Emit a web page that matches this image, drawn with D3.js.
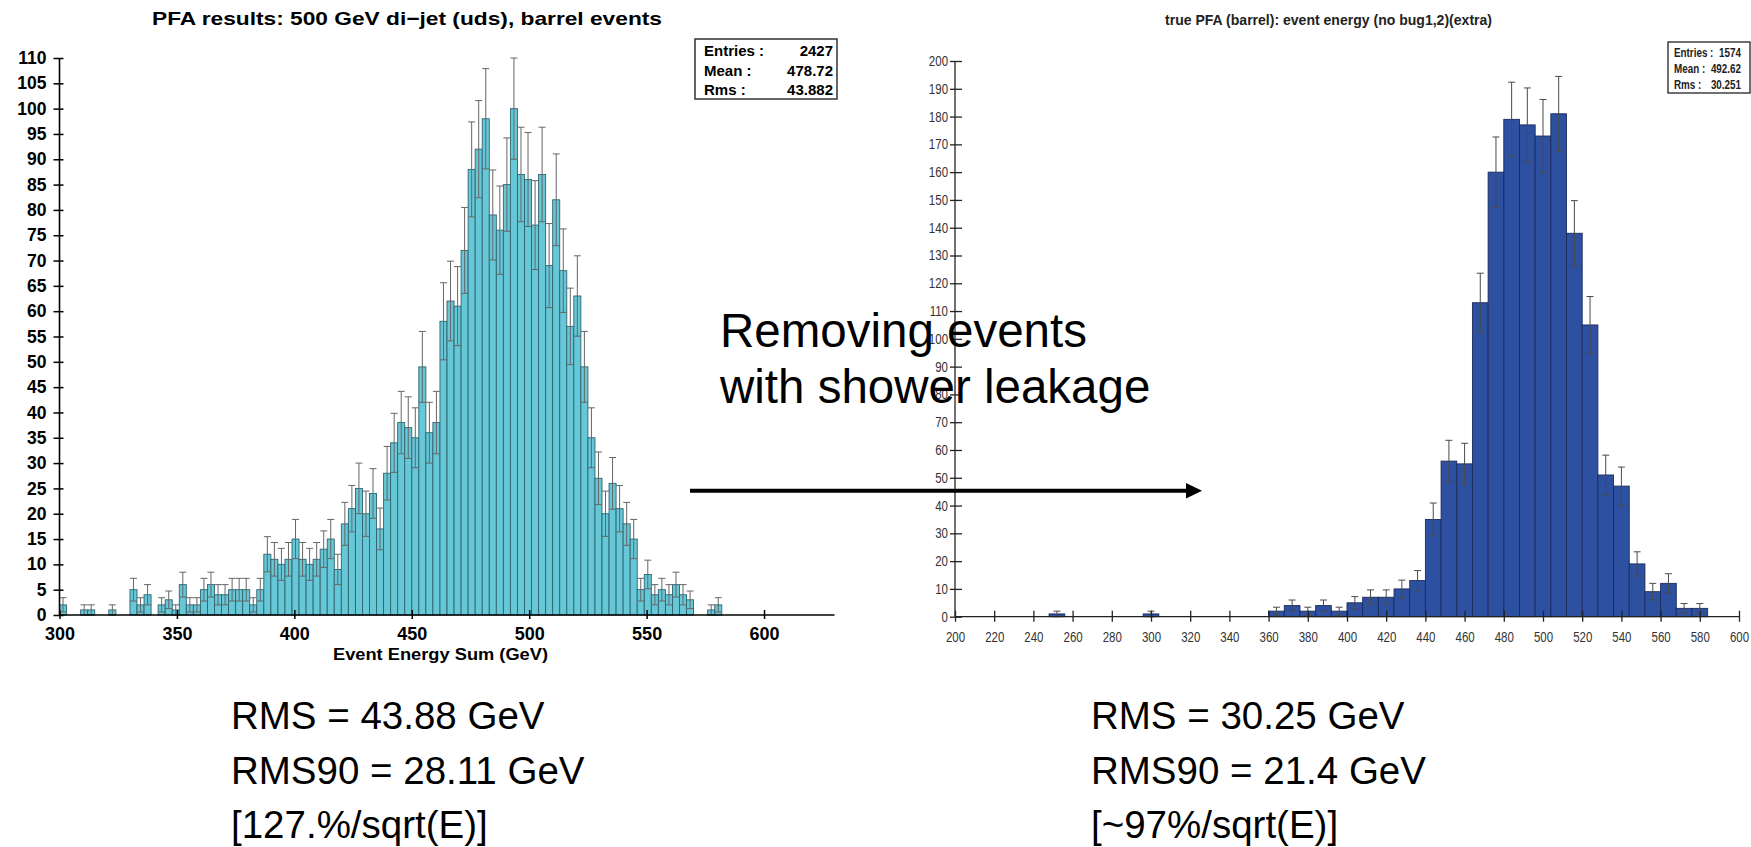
<!DOCTYPE html>
<html lang="en">
<head>
<meta charset="UTF-8">
<title>PFA event energy sum</title>
<script src="https://cdn.jsdelivr.net/npm/d3@7"></script>
<style>
	body { margin: 0; background: #fff; }
	svg { display: block; }
</style>
</head>
<body>
<svg id="chart" width="1751" height="847"></svg>
<script>
// left histogram: 3 GeV bins starting at 300 GeV
var leftBinStart = 300, leftBinWidth = 3
var leftCounts = [2,0,0,1,1,0,0,1,0,0, 5,2,4,0,2,3,1,6,2,2,
	5,6,4,4,5,5,5,2,5,12, 11,10,11,15,11,10,11,13,15,9,
	18,21,25,20,24,17,28,34,38,37, 35,49,36,38,58,62,61,72,88,92,
	98,79,76,85,100,87,86,77,87,69, 82,68,57,63,49,35,27,20,26,21,
	18,15,5,8,4,5,4,6,4,3, 0,0,1,2]
var leftXTicks = [300, 350, 400, 450, 500, 550, 600]
var leftYTicks = d3.range(0, 111, 5)
var leftStats = [["Entries :", "2427"], ["Mean :", "478.72"], ["Rms :", "43.882"]]

// right histogram: 8 GeV bins starting at 248 GeV
var rightBinStart = 248, rightBinWidth = 8
var rightCounts = [1,0,0,0,0,0,1,0,0,0,0,0,0,0,
	2,4,2,4,2,5,7,7,10,13,
	35,56,55,113,160,179,177,173,181,138,
	105,51,47,19,9,12,3,3]
var rightXTicks = d3.range(200, 601, 20)
var rightYTicks = d3.range(0, 201, 10)
var rightStats = [["Entries :", "1574"], ["Mean :", "492.62"], ["Rms :", "30.251"]]

var leftNotes = ["RMS = 43.88 GeV", "RMS90 = 28.11 GeV", "[127.%/sqrt(E)]"]
var rightNotes = ["RMS = 30.25 GeV", "RMS90 = 21.4 GeV", "[~97%/sqrt(E)]"]

var svg = d3.select("#chart")
var FONT = "'Liberation Sans', Arial, sans-serif"

// squeeze text horizontally (the right plot uses a narrow font)
function condense(sel, k) {
	sel.each(function() {
		var w = this.getComputedTextLength()
		d3.select(this).attr("textLength", w * k).attr("lengthAdjust", "spacingAndGlyphs")
	})
}

// ---------------- left plot ----------------
var xL = d3.scaleLinear().domain([300, 630]).range([59.5, 834.5])
var yL = d3.scaleLinear().domain([0, 110]).range([615, 58])

var leftBins = leftCounts.map(function(c, i) {
	return { x0: leftBinStart + i * leftBinWidth, x1: leftBinStart + (i + 1) * leftBinWidth, n: c }
}).filter(function(d) { return d.n > 0 })

var gL = svg.append("g")

gL.selectAll("rect.bar")
	.data(leftBins)
	.enter().append("rect")
	.attr("class", "bar")
	.attr("x", function(d) { return xL(d.x0) })
	.attr("width", function(d) { return xL(d.x1) - xL(d.x0) })
	.attr("y", function(d) { return yL(d.n) })
	.attr("height", function(d) { return yL(0) - yL(d.n) })
	.style("fill", "#66c7d7")
	.style("stroke", "#2e6470")
	.style("stroke-width", 0.9)

// poisson error bars
var errL = gL.selectAll("g.err")
	.data(leftBins)
	.enter().append("g")
	.attr("transform", function(d) { return "translate(" + xL((d.x0 + d.x1) / 2) + ",0)" })
errL.append("line")
	.attr("y1", function(d) { return yL(d.n - Math.sqrt(d.n)) })
	.attr("y2", function(d) { return yL(d.n + Math.sqrt(d.n)) })
errL.append("line").attr("x1", -3.5).attr("x2", 3.5)
	.attr("y1", function(d) { return yL(d.n + Math.sqrt(d.n)) })
	.attr("y2", function(d) { return yL(d.n + Math.sqrt(d.n)) })
errL.append("line").attr("x1", -3.5).attr("x2", 3.5)
	.attr("y1", function(d) { return yL(d.n - Math.sqrt(d.n)) })
	.attr("y2", function(d) { return yL(d.n - Math.sqrt(d.n)) })
errL.selectAll("line").style("stroke", "#666").style("stroke-width", 1)

// axes
var axL = gL.append("g").attr("transform", "translate(0," + yL(0) + ")")
	.call(d3.axisBottom(xL).tickValues(leftXTicks).tickSize(0).tickPadding(0))
axL.select(".domain").remove()
axL.append("line").attr("x1", xL(300)).attr("x2", xL(630)).style("stroke", "#000").style("stroke-width", 1.6)
axL.selectAll(".tick line").attr("y1", -5).attr("y2", 4).style("stroke", "#000").style("stroke-width", 1.5)
axL.selectAll(".tick text").attr("y", 25).attr("dy", 0)
	.style("font", "bold 18px " + FONT).style("fill", "#000")

var ayL = gL.append("g").attr("transform", "translate(" + xL(300) + ",0)")
	.call(d3.axisLeft(yL).tickValues(leftYTicks).tickSize(0).tickPadding(0))
ayL.select(".domain").remove()
ayL.append("line").attr("y1", yL(0)).attr("y2", yL(110)).style("stroke", "#000").style("stroke-width", 1.6)
ayL.selectAll(".tick line").attr("x1", -6).attr("x2", 4).style("stroke", "#000").style("stroke-width", 1.5)
ayL.selectAll(".tick text").attr("x", -13)
	.style("font", "bold 17.5px " + FONT).style("fill", "#000")

gL.append("text")
	.attr("x", 152).attr("y", 25)
	.attr("textLength", 510).attr("lengthAdjust", "spacingAndGlyphs")
	.style("font", "bold 19px " + FONT)
	.text("PFA results: 500 GeV di\u2212jet (uds), barrel events")

gL.append("text")
	.attr("x", 333).attr("y", 660)
	.attr("textLength", 215).attr("lengthAdjust", "spacingAndGlyphs")
	.style("font", "bold 16px " + FONT)
	.text("Event Energy Sum (GeV)")

gL.append("rect")
	.attr("x", 695).attr("y", 39).attr("width", 142).attr("height", 60)
	.style("fill", "#fff").style("stroke", "#333").style("stroke-width", 1.5)
gL.selectAll("text.statL")
	.data(leftStats)
	.enter().append("text")
	.attr("x", 704).attr("y", function(d, i) { return 56 + i * 19.5 })
	.style("font", "bold 15px " + FONT)
	.text(function(d) { return d[0] })
gL.selectAll("text.statLv")
	.data(leftStats)
	.enter().append("text")
	.attr("x", 833).attr("y", function(d, i) { return 56 + i * 19.5 })
	.attr("text-anchor", "end")
	.style("font", "bold 15px " + FONT)
	.text(function(d) { return d[1] })

// ---------------- right plot ----------------
var xR = d3.scaleLinear().domain([200, 600]).range([955, 1739])
var yR = d3.scaleLinear().domain([0, 200]).range([616.7, 61])

var rightBins = rightCounts.map(function(c, i) {
	return { x0: rightBinStart + i * rightBinWidth, x1: rightBinStart + (i + 1) * rightBinWidth, n: c }
}).filter(function(d) { return d.n > 0 })

var gR = svg.append("g")

gR.selectAll("rect.bar")
	.data(rightBins)
	.enter().append("rect")
	.attr("x", function(d) { return xR(d.x0) })
	.attr("width", function(d) { return xR(d.x1) - xR(d.x0) })
	.attr("y", function(d) { return yR(d.n) })
	.attr("height", function(d) { return yR(0) - yR(d.n) })
	.style("fill", "#2d50a1")
	.style("stroke", "#1b2b5c")
	.style("stroke-width", 0.9)

var errR = gR.selectAll("g.err")
	.data(rightBins)
	.enter().append("g")
	.attr("transform", function(d) { return "translate(" + xR((d.x0 + d.x1) / 2) + ",0)" })
errR.append("line")
	.attr("y1", function(d) { return yR(d.n - Math.sqrt(d.n)) })
	.attr("y2", function(d) { return yR(d.n + Math.sqrt(d.n)) })
errR.append("line").attr("x1", -3.5).attr("x2", 3.5)
	.attr("y1", function(d) { return yR(d.n + Math.sqrt(d.n)) })
	.attr("y2", function(d) { return yR(d.n + Math.sqrt(d.n)) })
errR.append("line").attr("x1", -3.5).attr("x2", 3.5)
	.attr("y1", function(d) { return yR(d.n - Math.sqrt(d.n)) })
	.attr("y2", function(d) { return yR(d.n - Math.sqrt(d.n)) })
errR.selectAll("line").style("stroke", "#4a4a4a").style("stroke-width", 1)

var axR = gR.append("g").attr("transform", "translate(0," + yR(0) + ")")
	.call(d3.axisBottom(xR).tickValues(rightXTicks).tickSize(0).tickPadding(0))
axR.select(".domain").remove()
axR.append("line").attr("x1", xR(200)).attr("x2", xR(600)).style("stroke", "#222").style("stroke-width", 1.3)
axR.selectAll(".tick line").attr("y1", -6).attr("y2", 5).style("stroke", "#222").style("stroke-width", 1.3)
axR.selectAll(".tick text").attr("y", 25).attr("dy", 0)
	.style("font", "14px " + FONT).style("fill", "#333")
	.call(condense, 0.82)

var ayR = gR.append("g").attr("transform", "translate(" + xR(200) + ",0)")
	.call(d3.axisLeft(yR).tickValues(rightYTicks).tickSize(0).tickPadding(0))
ayR.select(".domain").remove()
ayR.append("line").attr("y1", yR(0)).attr("y2", yR(200)).style("stroke", "#222").style("stroke-width", 1.3)
ayR.selectAll(".tick line").attr("x1", -5).attr("x2", 7).style("stroke", "#222").style("stroke-width", 1.3)
ayR.selectAll(".tick text").attr("x", -7)
	.style("font", "14px " + FONT).style("fill", "#333")
	.call(condense, 0.82)

gR.append("text")
	.attr("x", 1165).attr("y", 25)
	.attr("textLength", 327).attr("lengthAdjust", "spacingAndGlyphs")
	.style("font", "bold 14px " + FONT).style("fill", "#222")
	.text("true PFA (barrel): event energy (no bug1,2)(extra)")

gR.append("rect")
	.attr("x", 1668).attr("y", 42).attr("width", 82).attr("height", 51)
	.style("fill", "#fff").style("stroke", "#222").style("stroke-width", 1.3)
gR.selectAll("text.statR")
	.data(rightStats)
	.enter().append("text")
	.attr("x", 1674).attr("y", function(d, i) { return 56.5 + i * 16.3 })
	.style("font", "bold 12px " + FONT).style("fill", "#222")
	.text(function(d) { return d[0] })
	.call(condense, 0.82)
gR.selectAll("text.statRv")
	.data(rightStats)
	.enter().append("text")
	.attr("x", 1741).attr("y", function(d, i) { return 56.5 + i * 16.3 })
	.attr("text-anchor", "end")
	.style("font", "bold 12px " + FONT).style("fill", "#222")
	.text(function(d) { return d[1] })
	.call(condense, 0.82)

// ---------------- annotations ----------------
var note = svg.append("g")
note.selectAll("text.big")
	.data(["Removing events", "with shower leakage"])
	.enter().append("text")
	.attr("x", 720).attr("y", function(d, i) { return 347 + i * 56 })
	.style("font", "47.5px " + FONT).style("fill", "#000")
	.text(function(d) { return d })

note.append("line")
	.attr("x1", 690).attr("x2", 1188).attr("y1", 490.7).attr("y2", 490.7)
	.style("stroke", "#000").style("stroke-width", 4)
note.append("path")
	.attr("d", "M1186,483 L1202,490.7 L1186,498.4 Z")
	.style("fill", "#000")

note.selectAll("text.rmsL")
	.data(leftNotes)
	.enter().append("text")
	.attr("x", 231).attr("y", function(d, i) { return 729 + i * 54.5 })
	.style("font", "38.5px " + FONT)
	.text(function(d) { return d })
note.selectAll("text.rmsR")
	.data(rightNotes)
	.enter().append("text")
	.attr("x", 1091).attr("y", function(d, i) { return 729 + i * 54.5 })
	.style("font", "38.5px " + FONT)
	.text(function(d) { return d })
</script>
</body>
</html>
